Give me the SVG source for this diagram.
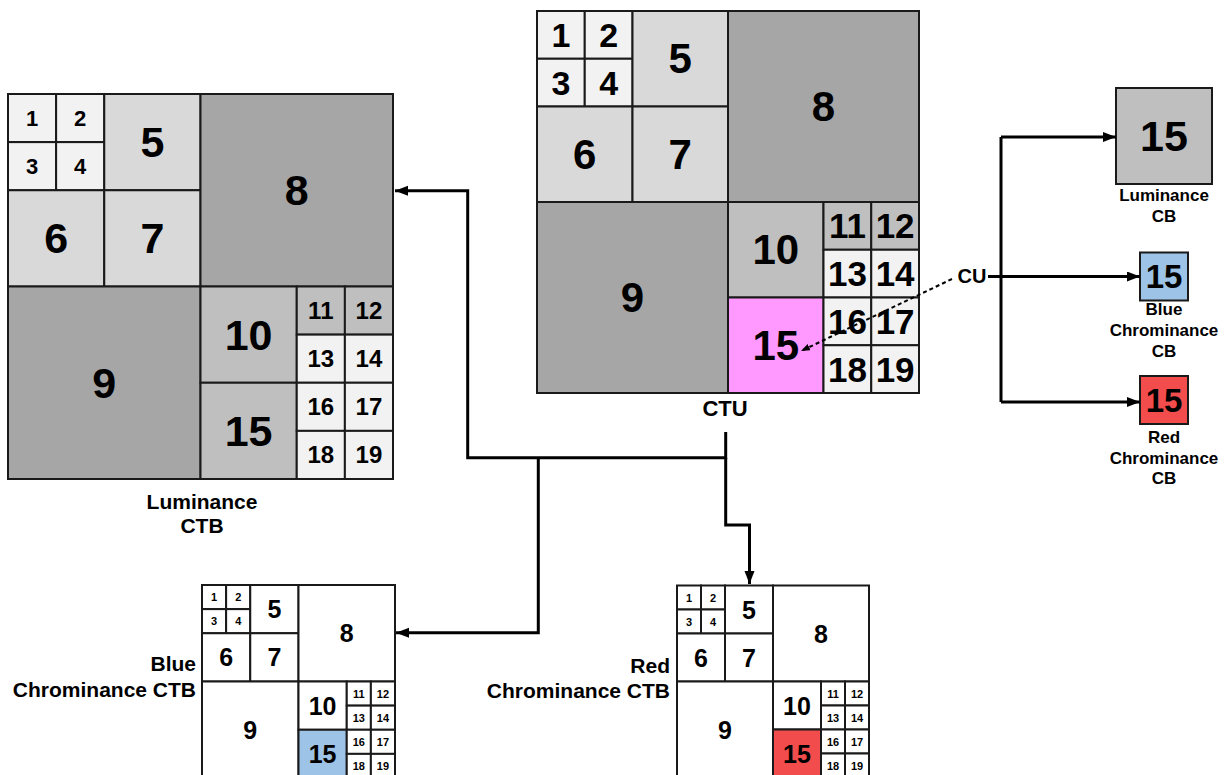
<svg xmlns="http://www.w3.org/2000/svg" width="1227" height="775" viewBox="0 0 1227 775">
<style>
text{font-family:"Liberation Sans",Arial,sans-serif;font-weight:bold;fill:#000}
.n{text-anchor:middle;dominant-baseline:central}
.c rect{stroke:#1a1a1a;stroke-width:2}
.lt{fill:#f2f2f2}.ml{fill:#d9d9d9}.md{fill:#bfbfbf}.dk{fill:#a6a6a6}.wh{fill:#fff}
.mag{fill:#ff99ff}.blu{fill:#9dc3e6}.red{fill:#f24c4c}
.lbc{font-size:21px;text-anchor:middle}
.lbr{font-size:21px;text-anchor:end}
.sl{font-size:17px;text-anchor:middle}
.w{fill:none;stroke:#000;stroke-width:3}
.d{fill:none;stroke:#000;stroke-width:2;stroke-dasharray:4 3}
</style>
<defs>
<marker id="ah" markerUnits="userSpaceOnUse" markerWidth="14" markerHeight="11" refX="13" refY="5" orient="auto"><path d="M0,0 L13,5 L0,10 z" fill="#000"/></marker>
<marker id="ahs" markerUnits="userSpaceOnUse" markerWidth="10" markerHeight="8" refX="9" refY="3.5" orient="auto"><path d="M0,0 L9,3.5 L0,7 z" fill="#000"/></marker>
</defs>

<g id="ctu" class="c">
<rect class="lt" x="537" y="11" width="47.75" height="47.75"/>
<rect class="lt" x="584.75" y="11" width="47.75" height="47.75"/>
<rect class="lt" x="537" y="58.75" width="47.75" height="47.75"/>
<rect class="lt" x="584.75" y="58.75" width="47.75" height="47.75"/>
<rect class="ml" x="632.5" y="11" width="95.5" height="95.5"/>
<rect class="ml" x="537" y="106.5" width="95.5" height="95.5"/>
<rect class="ml" x="632.5" y="106.5" width="95.5" height="95.5"/>
<rect class="dk" x="728" y="11" width="191" height="191"/>
<rect class="dk" x="537" y="202" width="191" height="191"/>
<rect class="md" x="728" y="202" width="95.5" height="95.5"/>
<rect class="md" x="823.5" y="202" width="47.75" height="47.75"/>
<rect class="md" x="871.25" y="202" width="47.75" height="47.75"/>
<rect class="lt" x="823.5" y="249.75" width="47.75" height="47.75"/>
<rect class="lt" x="871.25" y="249.75" width="47.75" height="47.75"/>
<rect class="mag" x="728" y="297.5" width="95.5" height="95.5"/>
<rect class="lt" x="823.5" y="297.5" width="47.75" height="47.75"/>
<rect class="lt" x="871.25" y="297.5" width="47.75" height="47.75"/>
<rect class="lt" x="823.5" y="345.25" width="47.75" height="47.75"/>
<rect class="lt" x="871.25" y="345.25" width="47.75" height="47.75"/>
<g style="font-size:34px">
<text class="n" x="560.9" y="34.9">1</text><text class="n" x="608.6" y="34.9">2</text>
<text class="n" x="560.9" y="82.6">3</text><text class="n" x="608.6" y="82.6">4</text>
</g>
<g style="font-size:42px">
<text class="n" x="680.25" y="58.75">5</text><text class="n" x="584.75" y="154.25">6</text>
<text class="n" x="680.25" y="154.25">7</text><text class="n" x="823.5" y="106.5">8</text>
<text class="n" x="632.5" y="297.5">9</text><text class="n" x="775.75" y="249.75">10</text>
<text class="n" x="775.75" y="345.25">15</text>
</g>
<g style="font-size:35px">
<text class="n" x="847.4" y="225.9">11</text><text class="n" x="895.1" y="225.9">12</text>
<text class="n" x="847.4" y="273.6">13</text><text class="n" x="895.1" y="273.6">14</text>
<text class="n" x="847.4" y="321.4">16</text><text class="n" x="895.1" y="321.4">17</text>
<text class="n" x="847.4" y="369.1">18</text><text class="n" x="895.1" y="369.1">19</text>
</g>
<text x="725" y="416" style="font-size:22px;text-anchor:middle">CTU</text>
</g>

<g id="luma-ctb" class="c">
<rect class="lt" x="8" y="94" width="48.125" height="48.125"/>
<rect class="lt" x="56.125" y="94" width="48.125" height="48.125"/>
<rect class="lt" x="8" y="142.125" width="48.125" height="48.125"/>
<rect class="lt" x="56.125" y="142.125" width="48.125" height="48.125"/>
<rect class="ml" x="104.25" y="94" width="96.25" height="96.25"/>
<rect class="ml" x="8" y="190.25" width="96.25" height="96.25"/>
<rect class="ml" x="104.25" y="190.25" width="96.25" height="96.25"/>
<rect class="dk" x="200.5" y="94" width="192.5" height="192.5"/>
<rect class="dk" x="8" y="286.5" width="192.5" height="192.5"/>
<rect class="md" x="200.5" y="286.5" width="96.25" height="96.25"/>
<rect class="md" x="296.75" y="286.5" width="48.125" height="48.125"/>
<rect class="md" x="344.875" y="286.5" width="48.125" height="48.125"/>
<rect class="lt" x="296.75" y="334.625" width="48.125" height="48.125"/>
<rect class="lt" x="344.875" y="334.625" width="48.125" height="48.125"/>
<rect class="md" x="200.5" y="382.75" width="96.25" height="96.25"/>
<rect class="lt" x="296.75" y="382.75" width="48.125" height="48.125"/>
<rect class="lt" x="344.875" y="382.75" width="48.125" height="48.125"/>
<rect class="lt" x="296.75" y="430.875" width="48.125" height="48.125"/>
<rect class="lt" x="344.875" y="430.875" width="48.125" height="48.125"/>
<g style="font-size:22px">
<text class="n" x="32.1" y="118.1">1</text><text class="n" x="80.2" y="118.1">2</text>
<text class="n" x="32.1" y="166.2">3</text><text class="n" x="80.2" y="166.2">4</text>
</g>
<g style="font-size:43px">
<text class="n" x="152.4" y="142.1">5</text><text class="n" x="56.1" y="238.4">6</text>
<text class="n" x="152.4" y="238.4">7</text><text class="n" x="296.75" y="190.25">8</text>
<text class="n" x="104.25" y="382.75">9</text><text class="n" x="248.6" y="334.6">10</text>
<text class="n" x="248.6" y="430.9">15</text>
</g>
<g style="font-size:24px">
<text class="n" x="320.8" y="310.6">11</text><text class="n" x="368.9" y="310.6">12</text>
<text class="n" x="320.8" y="358.7">13</text><text class="n" x="368.9" y="358.7">14</text>
<text class="n" x="320.8" y="406.8">16</text><text class="n" x="368.9" y="406.8">17</text>
<text class="n" x="320.8" y="454.9">18</text><text class="n" x="368.9" y="454.9">19</text>
</g>
<text class="lbc" x="202" y="509">Luminance</text>
<text class="lbc" x="202" y="533">CTB</text>
</g>

<g id="blue-ctb" class="c">
<rect class="wh" x="202" y="585" width="24.125" height="24.125"/>
<rect class="wh" x="226.125" y="585" width="24.125" height="24.125"/>
<rect class="wh" x="202" y="609.125" width="24.125" height="24.125"/>
<rect class="wh" x="226.125" y="609.125" width="24.125" height="24.125"/>
<rect class="wh" x="250.25" y="585" width="48.25" height="48.25"/>
<rect class="wh" x="202" y="633.25" width="48.25" height="48.25"/>
<rect class="wh" x="250.25" y="633.25" width="48.25" height="48.25"/>
<rect class="wh" x="298.5" y="585" width="96.5" height="96.5"/>
<rect class="wh" x="202" y="681.5" width="96.5" height="96.5"/>
<rect class="wh" x="298.5" y="681.5" width="48.25" height="48.25"/>
<rect class="wh" x="346.75" y="681.5" width="24.125" height="24.125"/>
<rect class="wh" x="370.875" y="681.5" width="24.125" height="24.125"/>
<rect class="wh" x="346.75" y="705.625" width="24.125" height="24.125"/>
<rect class="wh" x="370.875" y="705.625" width="24.125" height="24.125"/>
<rect class="blu" x="298.5" y="729.75" width="48.25" height="48.25"/>
<rect class="wh" x="346.75" y="729.75" width="24.125" height="24.125"/>
<rect class="wh" x="370.875" y="729.75" width="24.125" height="24.125"/>
<rect class="wh" x="346.75" y="753.875" width="24.125" height="24.125"/>
<rect class="wh" x="370.875" y="753.875" width="24.125" height="24.125"/>
<g style="font-size:11px">
<text class="n" x="214.1" y="597.1">1</text><text class="n" x="238.2" y="597.1">2</text>
<text class="n" x="214.1" y="621.2">3</text><text class="n" x="238.2" y="621.2">4</text>
<text class="n" x="358.8" y="693.6">11</text><text class="n" x="382.9" y="693.6">12</text>
<text class="n" x="358.8" y="717.7">13</text><text class="n" x="382.9" y="717.7">14</text>
<text class="n" x="358.8" y="741.8">16</text><text class="n" x="382.9" y="741.8">17</text>
<text class="n" x="358.8" y="765.9">18</text><text class="n" x="382.9" y="765.9">19</text>
</g>
<g style="font-size:25px">
<text class="n" x="274.4" y="609.1">5</text><text class="n" x="226.1" y="657.4">6</text>
<text class="n" x="274.4" y="657.4">7</text><text class="n" x="346.75" y="633.25">8</text>
<text class="n" x="250.25" y="729.75">9</text><text class="n" x="322.6" y="705.6">10</text>
<text class="n" x="322.6" y="753.9">15</text>
</g>
<text class="lbr" x="196" y="671">Blue</text>
<text class="lbr" x="196" y="697">Chrominance CTB</text>
</g>

<g id="red-ctb" class="c">
<rect class="wh" x="677" y="585.5" width="24" height="24"/>
<rect class="wh" x="701" y="585.5" width="24" height="24"/>
<rect class="wh" x="677" y="609.5" width="24" height="24"/>
<rect class="wh" x="701" y="609.5" width="24" height="24"/>
<rect class="wh" x="725" y="585.5" width="48" height="48"/>
<rect class="wh" x="677" y="633.5" width="48" height="48"/>
<rect class="wh" x="725" y="633.5" width="48" height="48"/>
<rect class="wh" x="773" y="585.5" width="96" height="96"/>
<rect class="wh" x="677" y="681.5" width="96" height="96"/>
<rect class="wh" x="773" y="681.5" width="48" height="48"/>
<rect class="wh" x="821" y="681.5" width="24" height="24"/>
<rect class="wh" x="845" y="681.5" width="24" height="24"/>
<rect class="wh" x="821" y="705.5" width="24" height="24"/>
<rect class="wh" x="845" y="705.5" width="24" height="24"/>
<rect class="red" x="773" y="729.5" width="48" height="48"/>
<rect class="wh" x="821" y="729.5" width="24" height="24"/>
<rect class="wh" x="845" y="729.5" width="24" height="24"/>
<rect class="wh" x="821" y="753.5" width="24" height="24"/>
<rect class="wh" x="845" y="753.5" width="24" height="24"/>
<g style="font-size:11px">
<text class="n" x="689" y="597.5">1</text><text class="n" x="713" y="597.5">2</text>
<text class="n" x="689" y="621.5">3</text><text class="n" x="713" y="621.5">4</text>
<text class="n" x="833" y="693.5">11</text><text class="n" x="857" y="693.5">12</text>
<text class="n" x="833" y="717.5">13</text><text class="n" x="857" y="717.5">14</text>
<text class="n" x="833" y="741.5">16</text><text class="n" x="857" y="741.5">17</text>
<text class="n" x="833" y="765.5">18</text><text class="n" x="857" y="765.5">19</text>
</g>
<g style="font-size:25px">
<text class="n" x="749" y="609.5">5</text><text class="n" x="701" y="657.5">6</text>
<text class="n" x="749" y="657.5">7</text><text class="n" x="821" y="633.5">8</text>
<text class="n" x="725" y="729.5">9</text><text class="n" x="797" y="705.5">10</text>
<text class="n" x="797" y="753.5">15</text>
</g>
<text class="lbr" x="670" y="673">Red</text>
<text class="lbr" x="670" y="698">Chrominance CTB</text>
</g>

<g id="luma-cb" class="c">
<rect class="md" x="1116" y="88" width="96" height="96"/>
<text class="n" x="1164" y="136" style="font-size:43px">15</text>
<text class="sl" x="1164" y="201">Luminance</text>
<text class="sl" x="1164" y="222">CB</text>
</g>
<g id="blue-cb" class="c">
<rect class="blu" x="1140" y="252.5" width="48" height="48"/>
<text class="n" x="1164" y="276.5" style="font-size:33px">15</text>
<text class="sl" x="1164" y="315">Blue</text>
<text class="sl" x="1164" y="336">Chrominance</text>
<text class="sl" x="1164" y="357">CB</text>
</g>
<g id="red-cb" class="c">
<rect class="red" x="1140" y="376" width="48" height="48"/>
<text class="n" x="1164" y="400" style="font-size:33px">15</text>
<text class="sl" x="1164" y="443">Red</text>
<text class="sl" x="1164" y="464">Chrominance</text>
<text class="sl" x="1164" y="484">CB</text>
</g>
<g id="cu">
<text x="972" y="283" style="font-size:20px;text-anchor:middle">CU</text>
</g>

<g id="connectors">
<path class="w" d="M725.7,432 V457.7 H467.7 V190.7 H395" marker-end="url(#ah)"/>
<path class="w" d="M538.3,457.7 V632.7 H396" marker-end="url(#ah)"/>
<path class="w" d="M725.7,457.7 V525 H749.5 V584" marker-end="url(#ah)"/>
<path class="w" d="M1001,137 V402"/>
<path class="w" d="M1001,137 H1116" marker-end="url(#ah)"/>
<path class="w" d="M988,276.5 H1140" marker-end="url(#ah)"/>
<path class="w" d="M1001,402 H1140" marker-end="url(#ah)"/>
<path class="d" d="M952,279 L801,351" marker-end="url(#ahs)"/>
</g>
</svg>
